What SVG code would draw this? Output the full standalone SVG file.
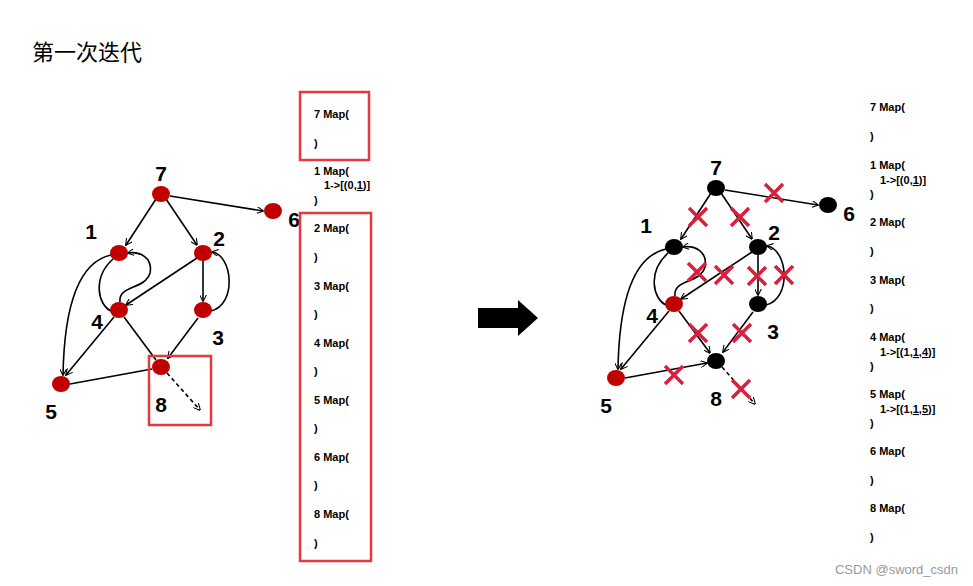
<svg xmlns="http://www.w3.org/2000/svg" width="973" height="586" viewBox="0 0 973 586">
<defs>
<marker id="ah" viewBox="0 0 10 10" refX="9" refY="5" markerWidth="7" markerHeight="7" orient="auto" markerUnits="userSpaceOnUse"><path d="M0,0 L10,5 L0,10" fill="none" stroke="#000" stroke-width="1.5"/></marker>
</defs>
<style>
.e{fill:none;stroke:#000;stroke-width:1.6}
.a{marker-end:url(#ah)}
.d{stroke-dasharray:4,3}
.r{fill:#c00000}
.k{fill:#000}
.lb{font-family:"Liberation Sans",Arial,sans-serif;font-weight:bold;font-size:21px;fill:#000;text-anchor:middle}
.t{font-family:"Liberation Sans",Arial,sans-serif;font-weight:bold;font-size:11px;fill:#000}
.box{fill:none;stroke:#e8383d;stroke-width:2.5}
.x{stroke:#d8203c;stroke-width:3.5;fill:none}
</style>
<rect width="973" height="586" fill="#fff"/>
<text x="32" y="60" font-family="Noto Sans CJK SC,sans-serif" font-size="22" fill="#000">第一次迭代</text>

<g id="connectors-left">
<path class="e a" d="M156,199 L126,245"/>
<path class="e a" d="M166,199 L197,245"/>
<path class="e a" d="M170,196 L263,211"/>
<path class="e a" d="M203,261 L203,301"/>
<path class="e a" d="M197,258 L126,305"/>
<path class="e a" d="M198,318 L168,358"/>
<path class="e" d="M124,317 L156,360"/>
<path class="e a" d="M114,317 L66,375"/>
<path class="e a" d="M111,255 Q65,265 63,375"/>
<path class="e" d="M113,259 C92,278 98,305 111,311"/>
<path class="e a" d="M120,302 C118,285 145,290 150,273 C153,258 140,251 128,253"/>
<path class="e a" d="M211,311 C237,305 233,255 212,252"/>
<path class="e" d="M70,384 L152,369"/>
<path class="e a d" d="M167,373 L200,410"/>
</g>
<g id="n7"><ellipse class="r" cx="161" cy="194" rx="9" ry="8"/><text class="lb" x="161" y="181">7</text></g>
<g id="n6"><ellipse class="r" cx="273" cy="211" rx="9" ry="8"/><text class="lb" x="294" y="227">6</text></g>
<g id="n1"><ellipse class="r" cx="119" cy="253" rx="9" ry="8"/><text class="lb" x="91" y="239">1</text></g>
<g id="n2"><ellipse class="r" cx="203" cy="253" rx="9" ry="8"/><text class="lb" x="219" y="246">2</text></g>
<g id="n4"><ellipse class="r" cx="119" cy="310" rx="9" ry="8"/><text class="lb" x="97" y="329">4</text></g>
<g id="n3"><ellipse class="r" cx="203" cy="310" rx="9" ry="8"/><text class="lb" x="218" y="345">3</text></g>
<g id="n8"><ellipse class="r" cx="161" cy="367" rx="9" ry="8"/><text class="lb" x="161" y="412">8</text></g>
<g id="n5"><ellipse class="r" cx="61" cy="384" rx="9" ry="8"/><text class="lb" x="51" y="419">5</text></g>

<rect class="box" x="300" y="92" width="69" height="68"/>
<rect class="box" x="300" y="213" width="71" height="348"/>
<rect class="box" x="149" y="356" width="62" height="69"/>

<g id="list-left" class="t">
<text x="314" y="118">7 Map(</text><text x="314" y="147">)</text>
<text x="314" y="175">1 Map(</text><text x="324" y="189">1-&gt;[(0,<tspan text-decoration="underline">1</tspan>)]</text><text x="314" y="204">)</text>
<text x="314" y="232">2 Map(</text><text x="314" y="261">)</text>
<text x="314" y="290">3 Map(</text><text x="314" y="318">)</text>
<text x="314" y="347">4 Map(</text><text x="314" y="375">)</text>
<text x="314" y="404">5 Map(</text><text x="314" y="432">)</text>
<text x="314" y="461">6 Map(</text><text x="314" y="489">)</text>
<text x="314" y="518">8 Map(</text><text x="314" y="547">)</text>
</g>

<path d="M478,308 L518,308 L518,300 L538,318 L518,336 L518,328 L478,328 Z" fill="#000"/>

<g transform="translate(555,-6)">
<g id="connectors-right">
<path class="e a" d="M156,199 L126,245"/>
<path class="e a" d="M166,199 L197,245"/>
<path class="e a" d="M170,196 L263,211"/>
<path class="e a" d="M203,261 L203,301"/>
<path class="e a" d="M197,258 L126,305"/>
<path class="e a" d="M198,318 L168,358"/>
<path class="e a" d="M124,317 L155,359"/>
<path class="e a" d="M114,317 L66,375"/>
<path class="e a" d="M111,255 Q65,265 63,375"/>
<path class="e" d="M113,259 C92,278 98,305 111,311"/>
<path class="e a" d="M120,302 C118,285 145,290 150,273 C153,258 140,251 128,253"/>
<path class="e a" d="M211,311 C237,305 233,255 212,252"/>
<path class="e a" d="M70,384 L152,369"/>
<path class="e a d" d="M167,373 L200,410"/>
</g>
<g id="m7"><ellipse class="k" cx="161" cy="194" rx="9" ry="8"/><text class="lb" x="161" y="181">7</text></g>
<g id="m6"><ellipse class="k" cx="273" cy="211" rx="9" ry="8"/><text class="lb" x="294" y="227">6</text></g>
<g id="m1"><ellipse class="k" cx="119" cy="253" rx="9" ry="8"/><text class="lb" x="91" y="239">1</text></g>
<g id="m2"><ellipse class="k" cx="203" cy="253" rx="9" ry="8"/><text class="lb" x="219" y="246">2</text></g>
<g id="m4"><ellipse class="r" cx="119" cy="310" rx="9" ry="8"/><text class="lb" x="97" y="329">4</text></g>
<g id="m3"><ellipse class="k" cx="203" cy="310" rx="9" ry="8"/><text class="lb" x="218" y="345">3</text></g>
<g id="m8"><ellipse class="k" cx="161" cy="367" rx="9" ry="8"/><text class="lb" x="161" y="412">8</text></g>
<g id="m5"><ellipse class="r" cx="61" cy="384" rx="9" ry="8"/><text class="lb" x="51" y="419">5</text></g>
</g>

<g id="crosses" class="x">
<path d="M765,184 L783,202 M783,184 L765,202"/>
<path d="M689,208 L707,226 M707,208 L689,226"/>
<path d="M731,208 L749,226 M749,208 L731,226"/>
<path d="M688,263 L706,281 M706,263 L688,281"/>
<path d="M715,266 L733,284 M733,266 L715,284"/>
<path d="M748,267 L766,285 M766,267 L748,285"/>
<path d="M775,266 L793,284 M793,266 L775,284"/>
<path d="M689,324 L707,342 M707,324 L689,342"/>
<path d="M733,324 L751,342 M751,324 L733,342"/>
<path d="M665,366 L683,384 M683,366 L665,384"/>
<path d="M732,380 L750,398 M750,380 L732,398"/>
</g>

<g id="list-right" class="t">
<text x="870" y="111">7 Map(</text><text x="870" y="140">)</text>
<text x="870" y="169">1 Map(</text><text x="880" y="184">1-&gt;[(0,<tspan text-decoration="underline">1</tspan>)]</text><text x="870" y="198">)</text>
<text x="870" y="226">2 Map(</text><text x="870" y="255">)</text>
<text x="870" y="284">3 Map(</text><text x="870" y="312">)</text>
<text x="870" y="341">4 Map(</text><text x="880" y="356">1-&gt;[(1,<tspan text-decoration="underline">1,4</tspan>)]</text><text x="870" y="370">)</text>
<text x="870" y="398">5 Map(</text><text x="880" y="413">1-&gt;[(1,<tspan text-decoration="underline">1,5</tspan>)]</text><text x="870" y="427">)</text>
<text x="870" y="455">6 Map(</text><text x="870" y="484">)</text>
<text x="870" y="512">8 Map(</text><text x="870" y="541">)</text>
</g>
<text x="958" y="574" text-anchor="end" font-family="Liberation Sans,Arial,sans-serif" font-size="13" fill="#999">CSDN @sword_csdn</text>
</svg>
